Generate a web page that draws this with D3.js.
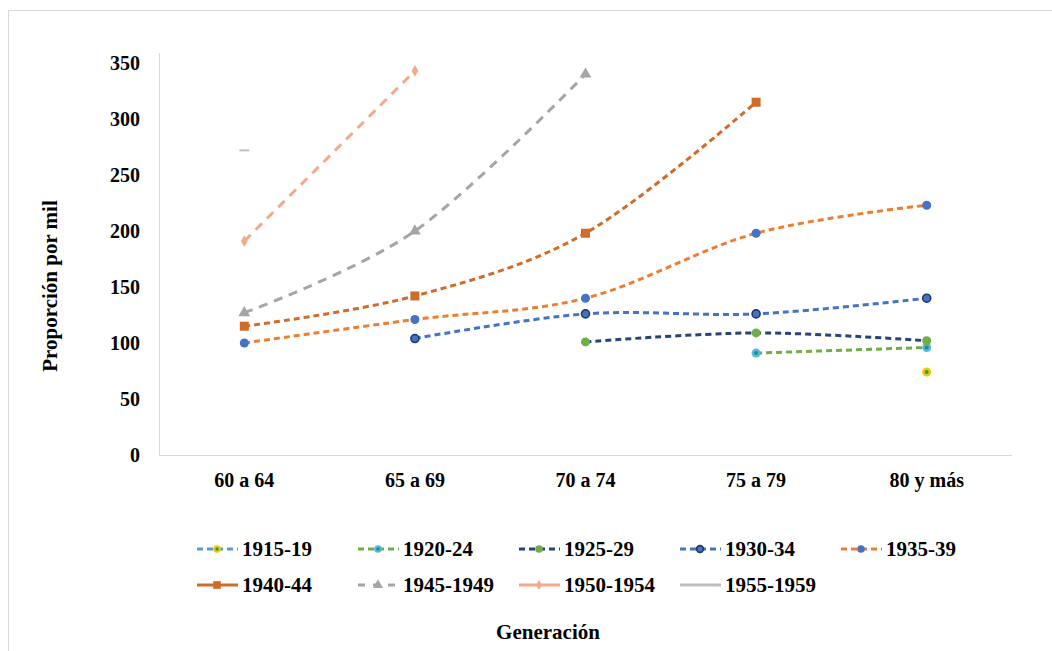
<!DOCTYPE html>
<html lang="es">
<head>
<meta charset="UTF-8">
<title>Proporción por mil por generación</title>
<style>
  body { margin: 0; background: #fff; }
  svg text { font-family: "Times New Roman", "Liberation Serif", Times, "DejaVu Serif", serif; font-weight: 700; fill: #000; }
</style>
<script src="https://d3js.org/d3.v7.min.js"></script>
</head>
<body>
<svg id="chart" width="1052" height="651"></svg>
<script>
// categories on the x axis
const grupos = ["60 a 64", "65 a 69", "70 a 74", "75 a 79", "80 y más"];
const yTicks = [0, 50, 100, 150, 200, 250, 300, 350];

// one array per cohort, null = no value
const s1915 = [null, null, null, null, 74];
const s1920 = [null, null, null, 91, 96];
const s1925 = [null, null, 101, 109, 102];
const s1930 = [null, 104, 126, 126, 140];
const s1935 = [100, 121, 140, 198, 223];
const s1940 = [115, 142, 198, 315, null];
const s1945 = [127, 200, 340, null, null];
const s1950 = [191, 343, null, null, null];
const s1955 = [272, null, null, null, null];

const series = [
  { name: "1915-19",   values: s1915, line: "#5b9bd5", dash: "6,4", marker: "circle", fill: "#ffc000", dot: "#00b050" },
  { name: "1920-24",   values: s1920, line: "#70ad47", dash: "6,4", marker: "circle", fill: "#5bb5e0", dot: "#00a080" },
  { name: "1925-29",   values: s1925, line: "#264478", dash: "6,4", marker: "circle", fill: "#70ad47" },
  { name: "1930-34",   values: s1930, line: "#4472c4", dash: "6,4", marker: "ring",   fill: "#4472c4", stroke: "#203864" },
  { name: "1935-39",   values: s1935, line: "#ed7d31", dash: "6,4", marker: "circle", fill: "#4472c4" },
  { name: "1940-44",   values: s1940, line: "#d06b2a", dash: "6,4", marker: "square", fill: "#d06b2a", legendSolid: true },
  { name: "1945-1949", values: s1945, line: "#a5a5a5", dash: "9,7", marker: "triangle", fill: "#a5a5a5" },
  { name: "1950-1954", values: s1950, line: "#f4a98a", dash: "9,7", marker: "diamond", fill: "#f4a98a", legendSolid: true },
  { name: "1955-1959", values: s1955, line: "#bfbfbf", dash: null, marker: "dash", fill: "#bfbfbf", legendSolid: true }
];

const svg = d3.select("#chart");

// outer chart frame
svg.append("rect")
  .attr("x", 8.5).attr("y", 10.5).attr("width", 1070).attr("height", 680)
  .attr("fill", "none").attr("stroke", "#d9d9d9");

const x = d3.scalePoint().domain(grupos).range([159, 1012]).padding(0.5);
const y = d3.scaleLinear().domain([0, 350]).range([455, 63]);

// axes lines
svg.append("line").attr("x1", 159.5).attr("x2", 159.5).attr("y1", 53).attr("y2", 455)
  .attr("stroke", "#d9d9d9");
svg.append("line").attr("x1", 159).attr("x2", 1012).attr("y1", 455.5).attr("y2", 455.5)
  .attr("stroke", "#d9d9d9");

// y tick labels
svg.selectAll(".ytick").data(yTicks).join("text")
  .attr("class", "ytick")
  .attr("x", 140).attr("y", d => y(d)).attr("dy", "0.35em")
  .attr("text-anchor", "end").style("font-size", "20px")
  .text(d => d);

// x tick labels
svg.selectAll(".xtick").data(grupos).join("text")
  .attr("class", "xtick")
  .attr("x", d => x(d)).attr("y", 487)
  .attr("text-anchor", "middle").style("font-size", "20px")
  .text(d => d);

// axis titles
svg.append("text")
  .attr("transform", "translate(57,286) rotate(-90)")
  .attr("text-anchor", "middle").style("font-size", "21px")
  .text("Proporción por mil");
svg.append("text")
  .attr("x", 548).attr("y", 639)
  .attr("text-anchor", "middle").style("font-size", "21px")
  .text("Generación");

const line = d3.line()
  .defined(d => d.v !== null)
  .x(d => x(d.g)).y(d => y(d.v))
  .curve(d3.curveCatmullRom.alpha(0));

function drawMarker(g, s, cx, cy, scale) {
  const k = scale || 1;
  if (s.marker === "circle") {
    g.append("circle").attr("cx", cx).attr("cy", cy).attr("r", 4.5 * k).attr("fill", s.fill);
    if (s.dot) g.append("circle").attr("cx", cx).attr("cy", cy).attr("r", 2 * k).attr("fill", s.dot);
  } else if (s.marker === "ring") {
    g.append("circle").attr("cx", cx).attr("cy", cy).attr("r", 4 * k)
      .attr("fill", s.fill).attr("stroke", s.stroke).attr("stroke-width", 1.6);
  } else if (s.marker === "square") {
    g.append("rect").attr("x", cx - 4.5 * k).attr("y", cy - 4.5 * k)
      .attr("width", 9 * k).attr("height", 9 * k).attr("fill", s.fill);
  } else if (s.marker === "triangle") {
    g.append("path").attr("transform", `translate(${cx},${cy})`)
      .attr("d", d3.symbol(d3.symbolTriangle, 60 * k * k)()).attr("fill", s.fill);
  } else if (s.marker === "diamond") {
    g.append("path").attr("transform", `translate(${cx},${cy})`)
      .attr("d", d3.symbol(d3.symbolDiamond, 40 * k * k)()).attr("fill", s.fill);
  } else if (s.marker === "dash") {
    g.append("line").attr("x1", cx - 5).attr("x2", cx + 5).attr("y1", cy).attr("y2", cy)
      .attr("stroke", s.fill).attr("stroke-width", 2);
  }
}

const plot = svg.append("g");
series.forEach(s => {
  const pts = s.values.map((v, i) => ({ g: grupos[i], v: v }));
  const g = plot.append("g");
  g.append("path")
    .attr("d", line(pts))
    .attr("fill", "none")
    .attr("stroke", s.line)
    .attr("stroke-width", 3)
    .attr("stroke-dasharray", s.dash);
  pts.filter(d => d.v !== null).forEach(d => drawMarker(g, s, x(d.g), y(d.v)));
});

// legend, two rows
const legendX = [197, 358, 519, 680, 841];
const legendY = [549, 585];
series.forEach((s, i) => {
  const row = i < 5 ? 0 : 1;
  const col = i < 5 ? i : i - 5;
  const lx = legendX[col], ly = legendY[row];
  const g = svg.append("g");
  g.append("line")
    .attr("x1", lx).attr("x2", lx + 41).attr("y1", ly).attr("y2", ly)
    .attr("stroke", s.line).attr("stroke-width", 3)
    .attr("stroke-dasharray", s.legendSolid ? null : (s.marker === "triangle" ? "7,8" : "6,4"));
  if (s.marker !== "dash") drawMarker(g, s, lx + 20, ly, 0.85);
  g.append("text")
    .attr("x", lx + 45).attr("y", ly).attr("dy", "0.35em")
    .style("font-size", "21px")
    .text(s.name);
});
</script>
</body>
</html>
